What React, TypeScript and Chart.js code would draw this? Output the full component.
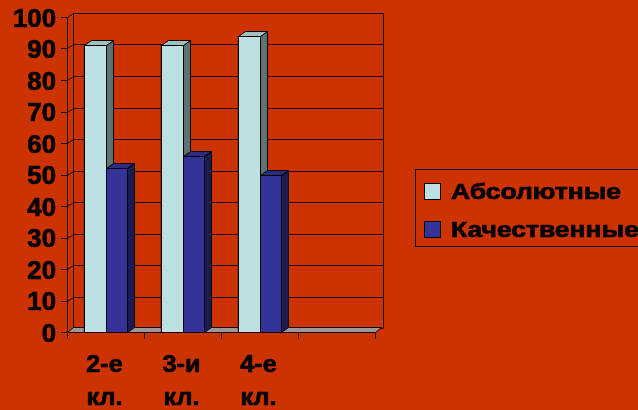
import React, { useEffect, useRef } from "react";
import { Chart, registerables } from "chart.js";

Chart.register(...registerables);

const categories = [["2-е", "кл."], ["3-и", "кл."], ["4-е", "кл."], [""]];
const absoluteValues = [91, 91, 94, null];
const qualityValues = [52, 56, 50, null];
const seriesNames = ["Абсолютные", "Качественные"];
const yTicks = [0, 10, 20, 30, 40, 50, 60, 70, 80, 90, 100];

const BG = "#CC3300";
const FONT = '"Liberation Sans", Arial, sans-serif';
const LINE = "#1a0500";
const faces = [
  { front: "#BDE1E3", side: "#5F7272", top: "#9FC0C2" },
  { front: "#333399", side: "#1C1C52", top: "#2C2C80" },
];
const WALL_DX = 6;
const WALL_DY = -4;
const BAR_DX = 7;
const BAR_DY = -5;

function stretchText(ctx: any, s: string, x: number, y: number, sx: number) {
  ctx.save();
  ctx.translate(x, y);
  ctx.scale(sx, 1);
  ctx.lineWidth = 0.7;
  ctx.strokeStyle = "#000";
  ctx.fillText(s, 0, 0);
  ctx.strokeText(s, 0, 0);
  ctx.restore();
}

const threeD = {
  id: "threeD",
  beforeDatasetsDraw(chart: any) {
    const ctx = chart.ctx;
    const y = chart.scales.y;
    const x = chart.scales.x;
    const { left, right, bottom, top } = chart.chartArea;
    ctx.save();
    ctx.lineWidth = 1;
    ctx.strokeStyle = LINE;
    for (const v of yTicks) {
      const py = Math.round(y.getPixelForValue(v) + WALL_DY) + 0.5;
      ctx.beginPath();
      ctx.moveTo(left + WALL_DX, py);
      ctx.lineTo(right + WALL_DX + 2, py);
      ctx.stroke();
      const fy = Math.round(y.getPixelForValue(v)) + 0.5;
      ctx.beginPath();
      ctx.moveTo(left - 6, fy);
      ctx.lineTo(left + 0.5, fy);
      ctx.lineTo(left + WALL_DX + 0.5, py);
      ctx.stroke();
    }
    const topBack = Math.round(y.getPixelForValue(100) + WALL_DY) + 0.5;
    const botBack = Math.round(y.getPixelForValue(0) + WALL_DY) + 0.5;
    ctx.beginPath();
    ctx.moveTo(left + WALL_DX + 0.5, topBack);
    ctx.lineTo(left + WALL_DX + 0.5, botBack);
    ctx.stroke();
    ctx.beginPath();
    ctx.moveTo(right + WALL_DX + 2.5, topBack);
    ctx.lineTo(right + WALL_DX + 2.5, botBack);
    ctx.stroke();
    ctx.beginPath();
    ctx.moveTo(left + 0.5, Math.round(top) + 0.5);
    ctx.lineTo(left + 0.5, Math.round(bottom) + 0.5);
    ctx.stroke();
    const fb = Math.round(bottom) + 0.5;
    ctx.fillStyle = "#999999";
    ctx.beginPath();
    ctx.moveTo(left + 0.5, fb);
    ctx.lineTo(right + 0.5, fb);
    ctx.lineTo(right + WALL_DX + 0.5, fb + WALL_DY - 1);
    ctx.lineTo(left + WALL_DX + 0.5, fb + WALL_DY - 1);
    ctx.closePath();
    ctx.fill();
    ctx.stroke();
    for (let i = 0; i <= categories.length; i++) {
      const px = Math.round(
        i < categories.length
          ? x.getPixelForValue(i) - (x.getPixelForValue(1) - x.getPixelForValue(0)) / 2
          : right
      ) + 0.5;
      ctx.beginPath();
      ctx.moveTo(px, fb);
      ctx.lineTo(px, fb + 6);
      ctx.stroke();
    }
    ctx.restore();
  },
  afterDatasetsDraw(chart: any) {
    const ctx = chart.ctx;
    ctx.save();
    ctx.lineWidth = 1;
    ctx.strokeStyle = "#000";
    const n = categories.length;
    for (let i = 0; i < n; i++) {
      chart.data.datasets.forEach((ds: any, di: number) => {
        const meta = chart.getDatasetMeta(di);
        const el: any = meta.data[i];
        if (!el || ds.data[i] == null) return;
        const l = Math.round(el.x - el.width / 2) + 0.5;
        const r = Math.round(el.x + el.width / 2) + 0.5;
        const t = Math.round(el.y) + 0.5;
        const b = Math.round(el.base) + 0.5;
        const f = faces[di];
        ctx.fillStyle = f.front;
        ctx.fillRect(l, t, r - l, b - t);
        ctx.strokeRect(l, t, r - l, b - t);
        ctx.fillStyle = f.side;
        ctx.beginPath();
        ctx.moveTo(r, t);
        ctx.lineTo(r + BAR_DX, t + BAR_DY);
        ctx.lineTo(r + BAR_DX, b + BAR_DY);
        ctx.lineTo(r, b);
        ctx.closePath();
        ctx.fill();
        ctx.stroke();
        ctx.fillStyle = f.top;
        ctx.beginPath();
        ctx.moveTo(l, t);
        ctx.lineTo(l + BAR_DX, t + BAR_DY);
        ctx.lineTo(r + BAR_DX, t + BAR_DY);
        ctx.lineTo(r, t);
        ctx.closePath();
        ctx.fill();
        ctx.stroke();
      });
    }
    ctx.restore();
  },
  afterDraw(chart: any) {
    const ctx = chart.ctx;
    const y = chart.scales.y;
    const x = chart.scales.x;
    ctx.save();
    ctx.fillStyle = "#000";
    ctx.font = `bold 25px ${FONT}`;
    ctx.textAlign = "right";
    ctx.textBaseline = "middle";
    for (const v of yTicks) {
      stretchText(ctx, String(v), 56, y.getPixelForValue(v) + 3, 1.03);
    }
    ctx.font = `bold 24px ${FONT}`;
    ctx.textAlign = "center";
    ctx.textBaseline = "alphabetic";
    categories.forEach((lines, i) => {
      const px = x.getPixelForValue(i) - 1;
      lines.forEach((s, k) => {
        stretchText(ctx, s, px, 372 + k * 33, 1.05);
      });
    });
    ctx.strokeStyle = "#000";
    ctx.lineWidth = 1;
    ctx.strokeRect(415.5, 169.5, 240, 77);
    ctx.font = `bold 22px ${FONT}`;
    ctx.textAlign = "left";
    const w0 = ctx.measureText(seriesNames[0]).width;
    const sx = 170 / w0;
    seriesNames.forEach((name, i) => {
      const sy = 183 + i * 38;
      ctx.fillStyle = faces[i].front;
      ctx.lineWidth = 1;
      ctx.fillRect(424.5, sy + 0.5, 16, 16);
      ctx.strokeRect(424.5, sy + 0.5, 16, 16);
      ctx.fillStyle = "#000";
      stretchText(ctx, name, 451, sy + 16, sx);
    });
    ctx.restore();
  },
};

export default function App() {
  const ref = useRef<HTMLCanvasElement>(null);
  useEffect(() => {
    if (!ref.current) return;
    const chart = new Chart(ref.current, {
      type: "bar",
      data: {
        labels: categories.map((c) => c.join(" ")),
        datasets: [
          {
            label: seriesNames[0],
            data: absoluteValues,
            backgroundColor: faces[0].front,
            borderColor: "#000",
            borderWidth: 1,
          },
          {
            label: seriesNames[1],
            data: qualityValues,
            backgroundColor: faces[1].front,
            borderColor: "#000",
            borderWidth: 1,
          },
        ],
      },
      options: {
        responsive: false,
        animation: false,
        events: [],
        layout: { padding: { top: 17, right: 263, left: 0, bottom: 0 } },
        datasets: { bar: { categoryPercentage: 0.57, barPercentage: 1.0 } },
        plugins: { legend: { display: false }, tooltip: { enabled: false } },
        scales: {
          x: {
            display: true,
            grid: { display: false },
            border: { display: false },
            ticks: { display: false },
            afterFit: (s: any) => {
              s.height = 78;
            },
          },
          y: {
            min: 0,
            max: 100,
            ticks: { display: false, stepSize: 10 },
            grid: { display: false },
            border: { display: false },
            afterFit: (s: any) => {
              s.width = 67;
            },
          },
        },
      },
      plugins: [threeD],
    });
    return () => chart.destroy();
  }, []);
  return (
    <div
      style={{
        position: "absolute",
        left: 0,
        top: 0,
        width: 638,
        height: 410,
        background: BG,
        overflow: "hidden",
      }}
    >
      <canvas ref={ref} width={638} height={410} style={{ display: "block" }} />
    </div>
  );
}
